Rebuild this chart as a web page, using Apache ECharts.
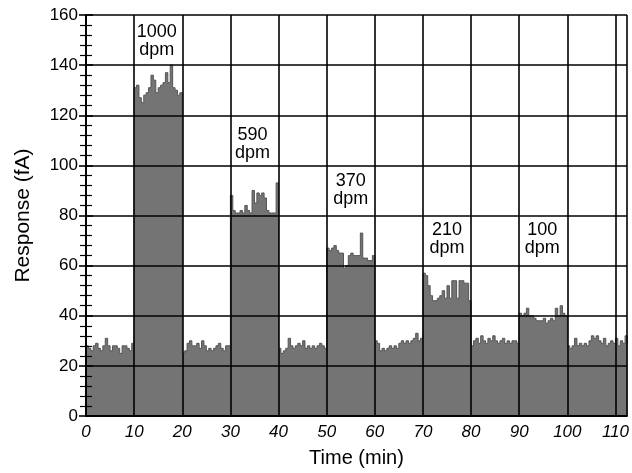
<!DOCTYPE html>
<html><head><meta charset="utf-8">
<script src="https://cdn.jsdelivr.net/npm/echarts@6/dist/echarts.min.js"></script>
<style>html,body{margin:0;padding:0;background:#fff}#c{width:632px;height:473px}</style>
</head><body><div id="c"></div>
<script>
const times = [
  0,0.5,1,1.5,2,2.5,3,3.5,4,4.5,5,5.5,6,6.5,7,7.5,8,8.5,9,9.5,
  10,10.5,11,11.5,12,12.5,13,13.5,14,14.5,15,15.5,16,16.5,17,17.5,18,18.5,19,19.5,
  20,20.5,21,21.5,22,22.5,23,23.5,24,24.5,25,25.5,26,26.5,27,27.5,28,28.5,29,29.5,
  30,30.5,31,31.5,32,32.5,33,33.5,34,34.5,35,35.5,36,36.5,37,37.5,38,38.5,39,39.5,
  40,40.5,41,41.5,42,42.5,43,43.5,44,44.5,45,45.5,46,46.5,47,47.5,48,48.5,49,49.5,
  50,50.5,51,51.5,52,52.5,53,53.5,54,54.5,55,55.5,56,56.5,57,57.5,58,58.5,59,59.5,
  60,60.5,61,61.5,62,62.5,63,63.5,64,64.5,65,65.5,66,66.5,67,67.5,68,68.5,69,69.5,
  70,70.5,71,71.5,72,72.5,73,73.5,74,74.5,75,75.5,76,76.5,77,77.5,78,78.5,79,79.5,
  80,80.5,81,81.5,82,82.5,83,83.5,84,84.5,85,85.5,86,86.5,87,87.5,88,88.5,89,89.5,
  90,90.5,91,91.5,92,92.5,93,93.5,94,94.5,95,95.5,96,96.5,97,97.5,98,98.5,99,99.5,
  100,100.5,101,101.5,102,102.5,103,103.5,104,104.5,105,105.5,106,106.5,107,107.5,108,108.5,109,109.5,
  110,110.5,111,111.5,112,112.5
];
// Response (fA)
const response = [
  28,27,26,28,29,27,26,28,31,28,26,28,28,27,25,28,28,27,26,29,
  131,132,127,125,128,129,131,136,134,129,131,132,133,137,133,140,131,130,128,129,
  25,26,29,30,28,28,29,27,30,28,26,27,26,27,28,29,27,26,28,28,
  88,82,81,81,82,81,84,82,81,90,85,89,88,89,87,82,81,81,81,93,
  27,25,26,27,31,28,27,28,29,28,30,27,28,27,28,27,28,29,28,27,
  67,66,67,68,66,65,65,59,60,64,65,64,64,64,73,63,63,62,62,64,
  30,29,26,27,26,27,28,27,28,27,29,30,29,30,29,30,31,33,30,31,
  57,56,52,48,46,46,47,48,50,47,52,47,54,54,47,54,54,53,53,46,
  28,30,31,29,32,30,29,31,30,32,30,29,30,31,29,30,29,30,30,29,
  41,40,41,43,40,40,39,38,38,38,39,37,38,39,38,43,40,44,41,40,
  28,27,28,31,28,29,28,29,28,30,32,31,32,30,29,31,28,29,30,29,
  31,28,30,29,32,29
];
// Annotations
const labelTimes = [14.7, 34.6, 55, 75, 94.8];
const labelValues = [149.6, 108.7, 90, 70.5, 70.5];
const labelTexts = ['1000\ndpm', '590\ndpm', '370\ndpm', '210\ndpm', '100\ndpm'];

const chart = echarts.init(document.getElementById('c'));
const seriesData = times.map((t, i) => [t, response[i]]);
const labelData = labelTimes.map((t, i) => [t, labelValues[i]]);
const font = 'Liberation Sans, Arial, Helvetica, sans-serif';
const lineStyle = { color: '#000', width: 1.6 };

chart.setOption({
  animation: false,
  backgroundColor: '#fff',
  grid: { left: 86, top: 15, right: 4, bottom: 56, show: false },
  xAxis: [{
    type: 'value', min: 0, max: 112.4, interval: 10, z: 10,
    axisLine: { show: true, lineStyle: lineStyle },
    axisTick: { show: false },
    splitLine: { show: true, lineStyle: lineStyle },
    axisLabel: { fontFamily: font, fontSize: 17, fontStyle: 'italic', color: '#000', margin: 8, showMaxLabel: false },
    name: 'Time (min)', nameLocation: 'middle', nameGap: 32,
    nameTextStyle: { fontFamily: font, fontSize: 20, color: '#000' }
  }, {
    type: 'value', min: 0, max: 112.4, interval: 10, position: 'top', z: 10,
    axisLine: { show: true, lineStyle: lineStyle },
    axisTick: { show: false }, axisLabel: { show: false }, splitLine: { show: false }
  }],
  yAxis: [{
    type: 'value', min: 0, max: 160, interval: 20, z: 10,
    axisLine: { show: true, lineStyle: lineStyle },
    axisTick: { show: true, inside: true, length: 7, lineStyle: lineStyle },
    minorTick: { show: true, splitNumber: 5, length: 6, lineStyle: { color: '#000', width: 1.2 } },
    splitLine: { show: true, lineStyle: lineStyle },
    axisLabel: { fontFamily: font, fontSize: 17, color: '#000', margin: 8 },
    name: 'Response (fA)', nameLocation: 'middle', nameGap: 52,
    nameTextStyle: { fontFamily: font, fontSize: 21, color: '#000' }
  }, {
    type: 'value', min: 0, max: 160, interval: 20, position: 'right', z: 10,
    axisLine: { show: true, lineStyle: lineStyle },
    axisTick: { show: true, inside: true, length: 7, lineStyle: lineStyle },
    minorTick: { show: true, splitNumber: 5, length: 6, lineStyle: { color: '#000', width: 1.2 } },
    splitLine: { show: false }, axisLabel: { show: false }
  }],
  series: [{
    type: 'line', xAxisIndex: 0, yAxisIndex: 0, step: 'end',
    data: seriesData, showSymbol: false, symbol: 'none',
    lineStyle: { color: '#555', width: 1 },
    areaStyle: { color: '#747474', opacity: 1 },
    z: 2
  }, {
    type: 'scatter', xAxisIndex: 0, yAxisIndex: 0, symbolSize: 0, silent: true, z: 20,
    itemStyle: { opacity: 1 },
    data: labelData,
    label: {
      show: true, position: 'inside', color: '#000', opacity: 1, textBorderWidth: 0,
      fontFamily: font, fontSize: 18, lineHeight: 18,
      formatter: p => labelTexts[p.dataIndex]
    }
  }]
});
</script></body></html>
